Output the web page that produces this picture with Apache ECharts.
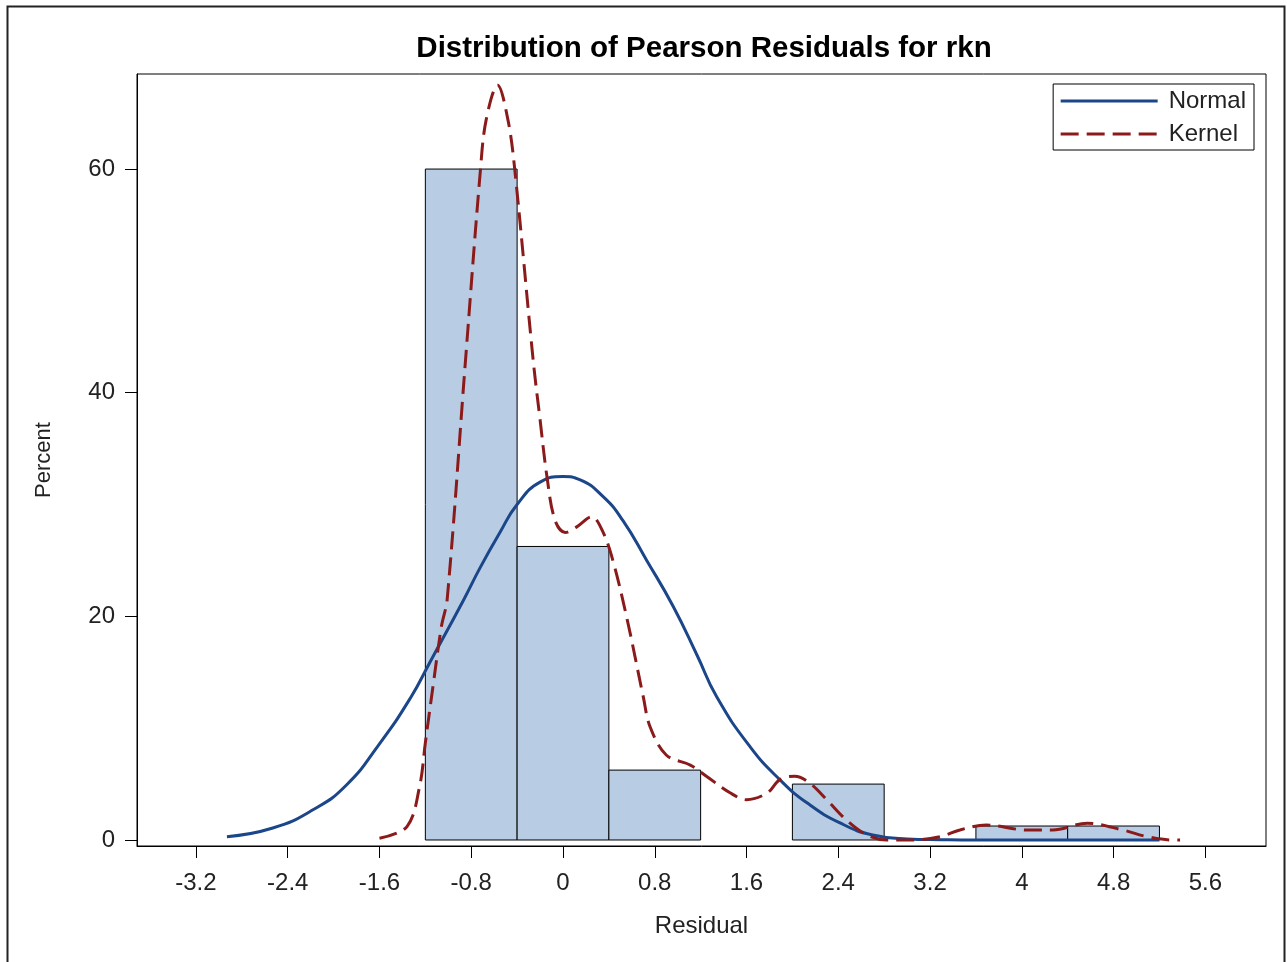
<!DOCTYPE html>
<html>
<head>
<meta charset="utf-8">
<title>Distribution of Pearson Residuals for rkn</title>
<script src="https://cdn.jsdelivr.net/npm/echarts@6/dist/echarts.min.js"></script>
<style>
  html, body { margin: 0; padding: 0; background: #fff; }
  #chart { width: 1287px; height: 962px; }
</style>
</head>
<body>
<div id="chart"></div>
<script>
// histogram bins (percent of 80 obs)
const binEdges = [-1.2, -0.4, 0.4, 1.2, 2.0, 2.8, 3.6, 4.4, 5.2];
const binPercents = [60, 26.25, 6.25, 0, 5, 0, 1.25, 1.25];

// fitted normal curve
const normalX = [-2.93, -2.53, -2.18, -1.89, -1.6, -1.33, -1.16, -0.87, -0.72, -0.55, -0.4, -0.2, 0, 0.15, 0.35, 0.52, 0.73, 0.96, 1.17, 1.34, 1.63, 1.89, 2.13, 2.42, 2.7, 3.0, 3.3, 3.6, 4.2, 4.8, 5.2];
const normalY = [0.3, 1.07, 2.7, 4.9, 8.6, 12.7, 15.9, 21.4, 24.4, 27.5, 30.0, 32.0, 32.5, 32.2, 30.7, 28.6, 25.0, 20.9, 16.5, 12.8, 8.35, 5.4, 3.3, 1.5, 0.45, 0.1, 0.03, 0, 0, 0, 0];

// kernel density curve
const kernelX = [-1.6, -1.36, -1.25, -1.2, -1.13, -1.06, -1.01, -0.85, -0.72, -0.67, -0.57, -0.48, -0.42, -0.26, -0.2, -0.14, -0.07, 0.02, 0.12, 0.25, 0.35, 0.44, 0.56, 0.7, 0.76, 0.9, 1.11, 1.25, 1.46, 1.6, 1.78, 1.89, 2.02, 2.15, 2.3, 2.47, 2.65, 2.82, 3.05, 3.29, 3.46, 3.69, 4.04, 4.27, 4.57, 4.88, 5.09, 5.32, 5.38];
const kernelY = [0.15, 1.2, 4.8, 8.7, 14.0, 19.1, 21.5, 42.9, 59.9, 64.4, 67.5, 64.4, 59.9, 42.9, 37.6, 32.5, 28.6, 27.5, 28.0, 28.9, 27.5, 24.8, 19.7, 12.8, 10.1, 7.6, 6.7, 5.7, 4.2, 3.6, 4.2, 5.4, 5.7, 5.1, 3.6, 1.8, 0.45, 0, 0, 0.3, 0.9, 1.34, 0.9, 0.9, 1.5, 0.9, 0.3, 0, 0];

const xTicks = [-3.2, -2.4, -1.6, -0.8, 0, 0.8, 1.6, 2.4, 3.2, 4, 4.8, 5.6];
const yTicks = [0, 20, 40, 60];

const FONT = "'Liberation Sans', Arial, sans-serif";

const bars = binPercents
  .map((v, i) => [binEdges[i], binEdges[i + 1], v])
  .filter((d) => d[2] > 0);

const chart = echarts.init(document.getElementById("chart"), null, { renderer: "canvas" });

const option = {
  backgroundColor: "#fff",
  animation: false,
  title: {
    text: "Distribution of Pearson Residuals for rkn",
    left: 699,
    top: 29,
    textAlign: "center",
    textStyle: { fontFamily: FONT, fontSize: 29.5, fontWeight: "bold", color: "#000" },
  },
  legend: {
    data: ["Normal", "Kernel"],
    orient: "vertical",
    right: 33,
    top: 84,
    itemWidth: 97,
    itemHeight: 14,
    itemGap: 9,
    padding: [5, 8, 4, 6],
    borderColor: "#000",
    borderWidth: 1,
    itemStyle: { opacity: 0 },
    lineStyle: { width: 3 },
    textStyle: { fontFamily: FONT, fontSize: 24, color: "#222", padding: [0, 0, 0, 6] },
  },
  grid: {
    left: 137,
    right: 21,
    top: 74,
    bottom: 116,
    show: true,
    borderColor: "#000",
    borderWidth: 1,
  },
  xAxis: {
    type: "value",
    min: -3.714,
    max: 6.129,
    name: "Residual",
    nameLocation: "middle",
    nameGap: 68,
    nameTextStyle: { fontFamily: FONT, fontSize: 24, color: "#222" },
    axisLine: { show: true, onZero: false, lineStyle: { color: "#000", width: 1 } },
    axisTick: { show: true, length: 12, customValues: xTicks, lineStyle: { color: "#000" } },
    axisLabel: { customValues: xTicks, margin: 25, fontFamily: FONT, fontSize: 24, color: "#222" },
    splitLine: { show: false },
  },
  yAxis: {
    type: "value",
    min: -0.537,
    max: 68.5,
    name: "Percent",
    nameLocation: "middle",
    nameGap: 82,
    nameTextStyle: { fontFamily: FONT, fontSize: 22, color: "#222" },
    axisLine: { show: true, onZero: false, lineStyle: { color: "#000", width: 1 } },
    axisTick: { show: true, length: 12, customValues: yTicks, lineStyle: { color: "#000" } },
    axisLabel: { customValues: yTicks, margin: 22, fontFamily: FONT, fontSize: 24, color: "#222" },
    splitLine: { show: false },
  },
  series: [
    {
      name: "Histogram",
      type: "custom",
      data: bars,
      encode: { x: [0, 1], y: 2 },
      z: 1,
      renderItem(params, api) {
        const p0 = api.coord([api.value(0), api.value(2)]);
        const p1 = api.coord([api.value(1), 0]);
        return {
          type: "rect",
          shape: { x: p0[0], y: p0[1], width: p1[0] - p0[0], height: p1[1] - p0[1] },
          style: { fill: "#b8cce4", stroke: "#000", lineWidth: 1 },
        };
      },
    },
    {
      name: "Normal",
      type: "line",
      data: normalX.map((x, i) => [x, normalY[i]]),
      smooth: 0.5,
      symbol: "none",
      z: 3,
      lineStyle: { color: "#1b4689", width: 3 },
      itemStyle: { color: "#1b4689" },
    },
    {
      name: "Kernel",
      type: "line",
      data: kernelX.map((x, i) => [x, kernelY[i]]),
      smooth: 0.35,
      symbol: "none",
      z: 4,
      lineStyle: { color: "#8b1a1a", width: 3, type: [18, 8] },
      itemStyle: { color: "#8b1a1a" },
    },
  ],
  graphic: [
    {
      type: "rect",
      left: 5,
      top: 4,
      shape: { width: 1277, height: 970 },
      style: { fill: null, stroke: "#222", lineWidth: 2 },
      silent: true,
    },
  ],
};

chart.setOption(option);
</script>
</body>
</html>
